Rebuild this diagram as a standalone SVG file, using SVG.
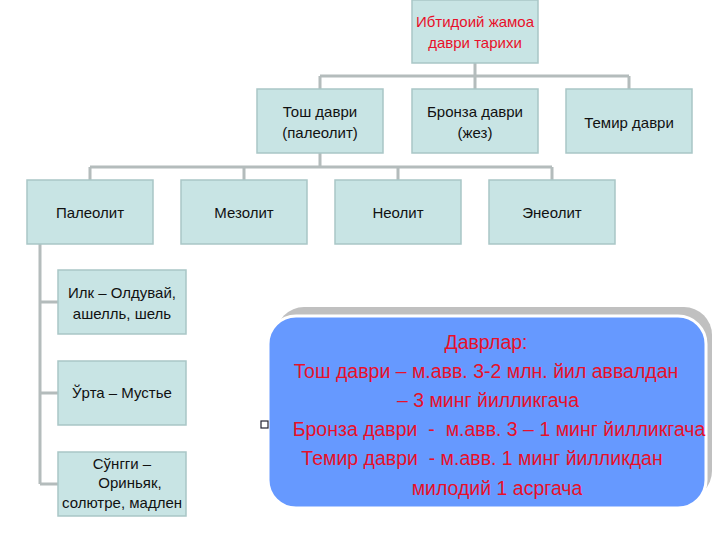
<svg xmlns="http://www.w3.org/2000/svg" width="720" height="540" viewBox="0 0 720 540">
<style>
.n{fill:#c8e4e4;stroke:#a9c6c6;stroke-width:1.5}
.t{font-family:"Liberation Sans",Arial,sans-serif;font-size:15px;fill:#111;text-anchor:middle}
.r{font-family:"Liberation Sans",Arial,sans-serif;font-size:19.5px;fill:#e8102a;text-anchor:middle;white-space:pre}
.c{fill:none;stroke:#b4bcbc;stroke-width:3}
</style>
<rect width="720" height="540" fill="#fff"/>
<g id="connectors">
<path class="c" d="M475 63V76M320 76H629M320 76V89M475 76V89M629 76V89"/>
<path class="c" d="M320 153V167M90 167H552M90 167V180M244 167V180M398 167V180M552 167V180"/>
<path class="c" d="M40 244V484M40 302H58M40 393H58M40 484H58"/>
</g>
<g id="top"><rect class="n" x="412" y="0" width="126" height="63"/><text class="t" style="fill:#e8102a" x="475" y="27">Ибтидоий жамоа</text><text class="t" style="fill:#e8102a" x="475" y="48">даври тарихи</text></g>
<g id="tosh"><rect class="n" x="257" y="89" width="126" height="64"/><text class="t" x="320" y="117">Тош даври</text><text class="t" x="320" y="138">(палеолит)</text></g>
<g id="bronza"><rect class="n" x="412" y="89" width="126" height="64"/><text class="t" x="475" y="117">Бронза даври</text><text class="t" x="475" y="138">(жез)</text></g>
<g id="temir"><rect class="n" x="566" y="89" width="126" height="64"/><text class="t" x="629" y="128">Темир даври</text></g>
<g id="paleolit"><rect class="n" x="27" y="180" width="126" height="64"/><text class="t" x="90" y="218">Палеолит</text></g>
<g id="mezolit"><rect class="n" x="181" y="180" width="126" height="64"/><text class="t" x="244" y="218">Мезолит</text></g>
<g id="neolit"><rect class="n" x="335" y="180" width="126" height="64"/><text class="t" x="398" y="218">Неолит</text></g>
<g id="eneolit"><rect class="n" x="489" y="180" width="126" height="64"/><text class="t" x="552" y="218">Энеолит</text></g>
<g id="ilk"><rect class="n" x="58" y="270" width="128" height="64"/><text class="t" x="122" y="298">Илк – Олдувай,</text><text class="t" x="122" y="319">ашелль, шель</text></g>
<g id="urta"><rect class="n" x="58" y="361" width="128" height="64"/><text class="t" x="122" y="398">Ўрта – Мустье</text></g>
<g id="sungi"><rect class="n" x="58" y="452" width="128" height="64"/><text class="t" x="122" y="469">Сўнгги –</text><text class="t" x="130" y="488">Ориньяк,</text><text class="t" x="122" y="508">солютре, мадлен</text></g>
<g id="info">
<rect x="276" y="307" width="436" height="192" rx="28" fill="#c0c0c0"/>
<rect x="268" y="316" width="438" height="192" rx="28" fill="#6699ff" stroke="#fff" stroke-width="3"/>
<text class="r" x="486" y="349">Даврлар:</text>
<text class="r" x="486" y="378">Тош даври – м.авв. 3-2 млн. йил аввалдан</text>
<text class="r" x="488" y="407">– 3 минг йилликгача</text>
<rect x="261" y="421" width="7" height="7" fill="#fff" stroke="#223" stroke-width="1.2"/>
<text class="r" x="499" y="436">Бронза даври  -  м.авв. 3 – 1 минг йилликгача</text>
<text class="r" x="482" y="465">Темир даври  - м.авв. 1 минг йилликдан</text>
<text class="r" x="497" y="495">милодий 1 асргача</text>
</g>
</svg>
